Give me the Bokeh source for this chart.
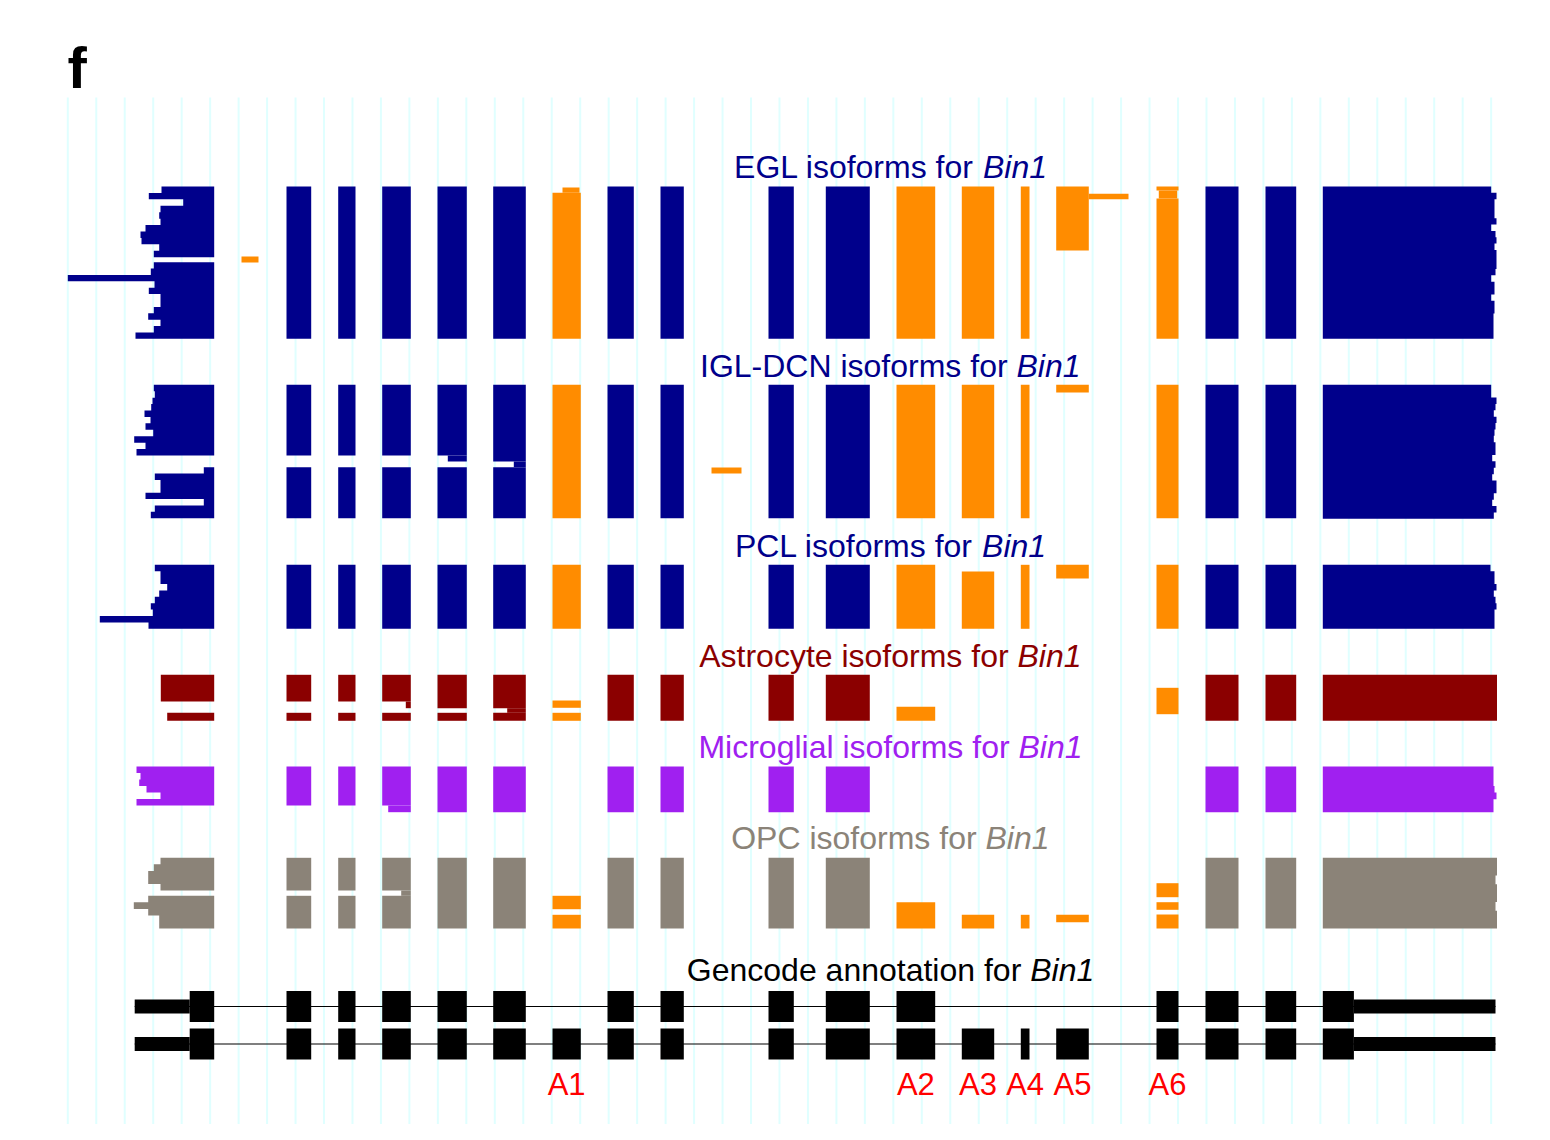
from bokeh.plotting import figure
from bokeh.models import Range1d
from bokeh.core.properties import value
from bokeh.embed import file_html
from bokeh.resources import INLINE

FONT = "Liberation Sans"
ORANGE = "#FF8C00"

# ---- exon columns (plot x units) ----
EXON_IDS = ["E1", "E2", "E3", "E4", "E5", "E6", "A1", "E7", "E8", "E9", "E10",
            "A2", "A3", "A4", "A5", "A6", "E11", "E12", "E13"]
EXON_START = [189.2, 286, 337.7, 381.7, 437, 492.7, 552, 607, 660, 768, 825.3,
              896, 961.3, 1020.3, 1055.7, 1156, 1205, 1265, 1322.3]
EXON_END = [213.7, 310.7, 355, 410.3, 466.3, 525.3, 580.3, 633.3, 683.3, 793.3, 869.3,
            934.7, 993.7, 1029, 1088.3, 1178, 1238, 1295.7, 1353.4]
ALT_IDS = ["A1", "A2", "A3", "A4", "A5", "A6"]
UTR5 = (134.2, 189.2)
UTR3 = (1353.4, 1495)
GENCODE_T1 = ["E1", "E2", "E3", "E4", "E5", "E6", "E7", "E8", "E9", "E10",
              "A2", "A6", "E11", "E12", "E13"]
GENCODE_T2 = EXON_IDS
GENCODE_ROW_Y = [1006, 1043.5]

# ---- panels ----
PANEL_NAMES = ["EGL", "IGL-DCN", "PCL", "Astrocyte", "Microglial", "OPC"]
PANEL_COLORS = ["#00008B", "#00008B", "#00008B", "#8B0000", "#A020F0", "#8B8378"]
PANEL_TITLE_Y = [166, 365, 545, 655.5, 746.5, 837.5]
PANEL_TITLE_SPLIT = [982.5, 1016, 981.6, 1017, 1018, 985]

# first exon: groups of rows (y0, y1, left edge of each row)
EGL_FIRST = [(186, 256.7, [161, 148.3, 182.7, 160, 158.7, 160, 145, 140, 141, 158.7, 153.3]),
             (261.7, 338.3, [153.3, 150.3, 67.3, 154, 148.3, 160, 160, 153.3, 147.7, 160, 153.3, 135])]
IGL_FIRST = [(384.3, 455, [153.3, 154.3, 152, 150.7, 144, 150, 145, 152.7, 133.7, 145, 136]),
             (466.7, 517.7, [203.3, 154.3, 160, 160, 145, 203.3, 154.3, 150.3])]
PCL_FIRST = [(564.3, 628.3, [154.3, 160, 160, 166.7, 158.7, 154.3, 150.3, 152.3, 99.3, 148])]
AST_FIRST = [(674.3, 701, [160.3]), (712.3, 720.3, [166.7])]
MIC_FIRST = [(766, 805, [136, 140, 138.7, 146, 160, 136])]
OPC_FIRST = [(857.3, 890, [160, 153.3, 147.7, 147.7, 160]),
             (895.3, 928, [147.7, 133.3, 147.7, 158.7, 158.7])]

# last exon: (y0, y1, right edge of each row)
EGL_LAST = (186, 338.3, [1490.7, 1496, 1494, 1494, 1494, 1496, 1490.7, 1495, 1496, 1494, 1496, 1496,
                         1496, 1495, 1490.7, 1494, 1494, 1490.7, 1494, 1494, 1493, 1493, 1493, 1493])
IGL_LAST = (384.3, 518.3, [1490.7, 1490.7, 1496, 1495, 1493.3, 1496, 1495, 1494, 1493.3, 1495, 1495,
                           1491.7, 1495, 1493.3, 1491.7, 1496, 1496, 1493.3, 1491.7, 1496, 1493.3])
PCL_LAST = (564.3, 628.3, [1490, 1494, 1494, 1496, 1493.3, 1495, 1496, 1494, 1494, 1494])
AST_LAST = (674.3, 720.3, [1496.5, 1496.5, 1496.5])
MIC_LAST = (766, 811.7, [1493, 1493, 1493, 1494, 1496, 1493, 1493])
OPC_LAST = (857.3, 928, [1496.5, 1496.5, 1495, 1496.5, 1496.5, 1495, 1496.5, 1496.5])

# other exons: vertical spans present in each panel
EGL_SPANS = {**{e: [(186, 338.3)] for e in ["E2", "E3", "E4", "E5", "E6", "E7", "E8", "E9", "E10",
                                            "A2", "A3", "A4", "E11", "E12"]},
             "A1": [(192.3, 338.3)], "A5": [(186, 250)], "A6": [(186, 190), (198, 338.3)]}
IGL_SPANS = {**{e: [(384.3, 455), (466.7, 517.7)] for e in ["E2", "E3", "E4", "E5"]},
             "E6": [(384.3, 461), (466.7, 517.7)],
             **{e: [(384.3, 517.7)] for e in ["A1", "E7", "E8", "E9", "E10", "A2", "A3", "A4",
                                               "A6", "E11", "E12"]},
             "A5": [(384.3, 392)]}
PCL_SPANS = {**{e: [(564.3, 628.3)] for e in ["E2", "E3", "E4", "E5", "E6", "A1", "E7", "E8", "E9",
                                              "E10", "A2", "A4", "A6", "E11", "E12"]},
             "A3": [(571, 628.3)], "A5": [(564.3, 578)]}
AST_SPANS = {**{e: [(674.3, 701), (712.3, 720.3)] for e in ["E2", "E3", "E4"]},
             **{e: [(674.3, 707.7), (712.3, 720.3)] for e in ["E5", "E6"]},
             **{e: [(674.3, 720.3)] for e in ["E7", "E8", "E9", "E10", "E11", "E12"]},
             "A1": [(700, 707.3), (712.3, 720.3)], "A2": [(706.3, 720.3)], "A6": [(687.3, 713.7)]}
MIC_SPANS = {**{e: [(766, 805)] for e in ["E2", "E3", "E4"]},
             **{e: [(766, 811.7)] for e in ["E5", "E6", "E7", "E8", "E9", "E10", "E11", "E12"]}}
OPC_SPANS = {**{e: [(857.3, 890), (895.3, 928)] for e in ["E2", "E3", "E4"]},
             **{e: [(857.3, 928)] for e in ["E5", "E6", "E7", "E8", "E9", "E10", "E11", "E12"]},
             "A1": [(895.3, 908.7), (914.3, 928)], "A2": [(901.7, 928)],
             "A3": [(914.3, 928)], "A4": [(914.3, 928)], "A5": [(914.3, 921.7)],
             "A6": [(882.7, 896.7), (901.7, 909.3), (914, 928)]}

# partial / odd pieces: (x0, x1, y0, y1, alternative?)
EGL_EXTRA = [(562, 579, 187, 192.3, True), (241, 258, 256, 262, True),
             (1088.3, 1128, 193.3, 198.7, True), (1158.3, 1176.7, 190, 198, True)]
IGL_EXTRA = [(447.3, 466.3, 455, 461, False), (513.3, 525.3, 461, 466.7, False),
             (711, 741, 467, 473, True)]
PCL_EXTRA = []
AST_EXTRA = [(405.3, 410.3, 701, 707.7, False), (506.7, 525.3, 707.7, 712.3, False)]
MIC_EXTRA = [(387.7, 410.3, 805, 811.7, False)]
OPC_EXTRA = [(400.7, 410.3, 890, 895.3, False)]

FIRSTS = [EGL_FIRST, IGL_FIRST, PCL_FIRST, AST_FIRST, MIC_FIRST, OPC_FIRST]
LASTS = [EGL_LAST, IGL_LAST, PCL_LAST, AST_LAST, MIC_LAST, OPC_LAST]
SPANS = [EGL_SPANS, IGL_SPANS, PCL_SPANS, AST_SPANS, MIC_SPANS, OPC_SPANS]
EXTRAS = [EGL_EXTRA, IGL_EXTRA, PCL_EXTRA, AST_EXTRA, MIC_EXTRA, OPC_EXTRA]

GRID_FIRST, GRID_STEP, GRID_COUNT = 67.3, 28.467, 51
GRID_X = [GRID_FIRST + i * GRID_STEP for i in range(GRID_COUNT)]

p = figure(width=1534, height=1124, x_range=Range1d(0, 1534), y_range=Range1d(1124, 0),
           output_backend="svg", toolbar_location=None, min_border=0,
           x_axis_location=None, y_axis_location=None)
p.grid.visible = False
p.outline_line_color = None
p.background_fill_color = "white"

# background vertical guides
p.segment(x0=GRID_X, x1=GRID_X, y0=[97] * GRID_COUNT, y1=[1140] * GRID_COUNT,
          line_color="#E0FFFF", line_width=2)

xs_of = dict(zip(EXON_IDS, zip(EXON_START, EXON_END)))

q_l, q_r, q_t, q_b, q_c = [], [], [], [], []
px, py, pc = [], [], []

for i, name in enumerate(PANEL_NAMES):
    col = PANEL_COLORS[i]
    right1 = xs_of["E1"][1]
    for (y0, y1, lefts) in FIRSTS[i]:
        h = (y1 - y0) / len(lefts)
        xs, ys = [right1], [y0]
        for k, l in enumerate(lefts):
            xs += [l, l]
            ys += [y0 + k * h, y0 + (k + 1) * h]
        xs.append(right1)
        ys.append(y1)
        px.append(xs); py.append(ys); pc.append(col)
    y0, y1, rights = LASTS[i]
    left13 = xs_of["E13"][0]
    h = (y1 - y0) / len(rights)
    xs, ys = [left13], [y0]
    for k, r in enumerate(rights):
        xs += [r, r]
        ys += [y0 + k * h, y0 + (k + 1) * h]
    xs.append(left13)
    ys.append(y1)
    px.append(xs); py.append(ys); pc.append(col)
    for e, spans in SPANS[i].items():
        a, b = xs_of[e]
        for (s0, s1) in spans:
            q_l.append(a); q_r.append(b); q_t.append(s0); q_b.append(s1)
            q_c.append(ORANGE if e in ALT_IDS else col)
    for (a, b, s0, s1, alt) in EXTRAS[i]:
        q_l.append(a); q_r.append(b); q_t.append(s0); q_b.append(s1)
        q_c.append(ORANGE if alt else col)

p.patches(xs=px, ys=py, fill_color=pc, line_color=None)
p.quad(left=q_l, right=q_r, top=q_t, bottom=q_b, fill_color=q_c, line_color=None)

# ---- Gencode annotation ----
EXON_HALF, UTR_HALF = 15.5, 7
for yc, tr in zip(GENCODE_ROW_Y, [GENCODE_T1, GENCODE_T2]):
    p.segment(x0=[UTR5[0]], x1=[UTR3[1]], y0=[yc], y1=[yc], line_color="black", line_width=1.2)
    p.quad(left=[UTR5[0], UTR3[0]], right=[UTR5[1], UTR3[1]],
           top=[yc - UTR_HALF] * 2, bottom=[yc + UTR_HALF] * 2,
           fill_color="black", line_color=None)
    p.quad(left=[xs_of[e][0] for e in tr], right=[xs_of[e][1] for e in tr],
           top=[yc - EXON_HALF] * len(tr), bottom=[yc + EXON_HALF] * len(tr),
           fill_color="black", line_color=None)

# A1..A6 labels
p.text(x=[(xs_of[e][0] + xs_of[e][1]) / 2 for e in ALT_IDS], y=[1084] * len(ALT_IDS), text=ALT_IDS,
       text_align="center", text_baseline="middle", text_color="#FF0000",
       text_font=value(FONT), text_font_size=value("31px"))

# ---- titles ----
TITLE_TEXTS = [f"{n} isoforms for" for n in PANEL_NAMES] + ["Gencode annotation for"]
TITLE_COLORS = PANEL_COLORS + ["black"]
TITLE_Y = PANEL_TITLE_Y + [969]
TITLE_SPLIT = PANEL_TITLE_SPLIT + [1029.7]
SPACE = 8.9
p.text(x=[s - SPACE for s in TITLE_SPLIT], y=TITLE_Y, text=TITLE_TEXTS, text_color=TITLE_COLORS,
       text_align="right", text_baseline="middle",
       text_font=value(FONT), text_font_size=value("32px"))
p.text(x=TITLE_SPLIT, y=TITLE_Y, text=["Bin1"] * len(TITLE_SPLIT), text_color=TITLE_COLORS,
       text_align="left", text_baseline="middle", text_font_style="italic",
       text_font=value(FONT), text_font_size=value("32px"))

# panel letter
p.text(x=[67], y=[67], text=["f"], text_align="left", text_baseline="middle",
       text_font_style="bold", text_color="black",
       text_font=value(FONT), text_font_size=value("58px"))

open("out.html", "w").write(file_html(p, INLINE))
